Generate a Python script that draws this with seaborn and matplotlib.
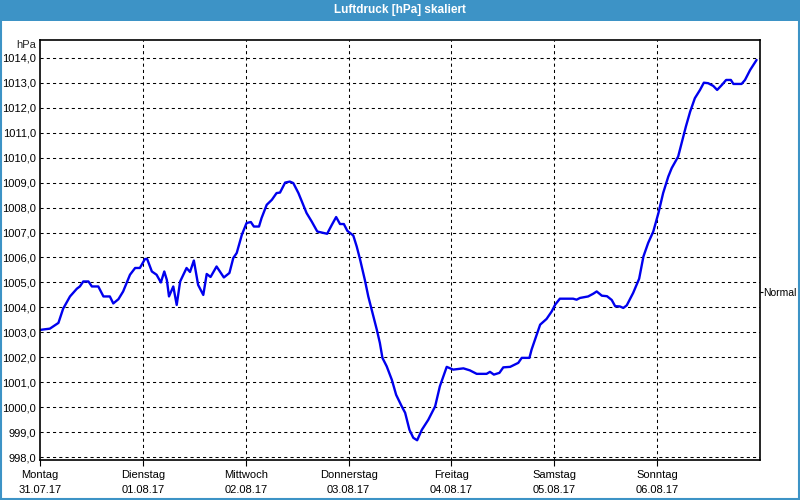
import matplotlib
matplotlib.use("Agg")
import matplotlib.pyplot as plt
import seaborn as sns
import pandas as pd
from matplotlib.patches import Rectangle

# ---- data ----
title = "Luftdruck [hPa] skaliert"
unit = "hPa"
day_names = ["Montag", "Dienstag", "Mittwoch", "Donnerstag", "Freitag", "Samstag", "Sonntag"]
day_dates = ["31.07.17", "01.08.17", "02.08.17", "03.08.17", "04.08.17", "05.08.17", "06.08.17"]
normal_value = 1004.6
y_ticks = list(range(998, 1015))

hours = [0, 2.3, 4.3, 5.4, 7.0, 8.6, 9.3, 10.1, 11.3, 12.1, 13.6, 14.8, 16.3, 17.1, 18.3,
         19.4, 21.0, 22.2, 23.3, 24.5, 25.0, 26.1, 27.2, 28.2, 29.0, 29.6, 30.1, 31.1, 31.9,
         32.7, 34.2, 35.0, 35.9, 36.9, 38.1, 38.9, 39.8, 41.2, 42.9, 44.2, 45.1, 45.9, 47.1,
         48.2, 49.2, 49.9, 51.1, 51.7, 52.9, 54.1, 55.2, 56.0, 57.2, 58.3, 59.1, 60.3, 61.4,
         62.2, 63.4, 64.7, 65.7, 67.0, 68.1, 69.1, 70.0, 70.9, 71.7, 73.1, 73.9, 74.7, 75.8,
         76.6, 77.4, 78.6, 79.3, 79.9, 80.9, 82.1, 83.1, 84.4, 85.2, 86.2, 87.1, 88.0, 89.1,
         90.6, 92.2, 93.3, 94.9, 96.4, 98.8, 100.3, 101.9, 104.2, 105.0, 105.9, 107.2, 108.1,
         109.7, 110.8, 111.6, 112.4, 114.2, 114.7, 115.9, 116.7, 118.2, 119.4, 120.2, 121.3,
         124.4, 125.2, 126.0, 127.9, 129.1, 129.9, 131.1, 132.3, 133.4, 134.2, 135.3, 136.1,
         136.9, 138.4, 139.8, 140.8, 141.9, 143.1, 144.3, 145.4, 146.6, 147.4, 148.9, 149.7,
         150.7, 151.7, 152.8, 154.0, 154.9, 155.9, 157.1, 158.0, 159.1, 160.1, 161.2, 161.8,
         163.7, 164.5, 165.7, 167.2]
pressure = [1003.10, 1003.15, 1003.38, 1003.95, 1004.44, 1004.75, 1004.84, 1005.04, 1005.04,
            1004.84, 1004.84, 1004.44, 1004.44, 1004.16, 1004.33, 1004.64, 1005.31, 1005.58,
            1005.58, 1005.94, 1005.94, 1005.44, 1005.31, 1005.00, 1005.44, 1005.10, 1004.44,
            1004.84, 1004.10, 1005.04, 1005.58, 1005.42, 1005.88, 1004.90, 1004.50, 1005.34,
            1005.22, 1005.64, 1005.20, 1005.38, 1005.98, 1006.18, 1006.91, 1007.38, 1007.42,
            1007.24, 1007.24, 1007.58, 1008.11, 1008.31, 1008.58, 1008.60, 1009.00, 1009.04,
            1008.98, 1008.58, 1008.11, 1007.78, 1007.44, 1007.04, 1007.00, 1006.95, 1007.31,
            1007.62, 1007.34, 1007.34, 1007.07, 1006.88, 1006.44, 1005.91, 1005.10, 1004.44,
            1003.90, 1003.10, 1002.58, 1001.98, 1001.64, 1001.10, 1000.50, 1000.04, 999.78,
            999.10, 998.78, 998.68, 999.10, 999.50, 1000.04, 1000.84, 1001.62, 1001.51, 1001.56,
            1001.48, 1001.34, 1001.34, 1001.42, 1001.31, 1001.38, 1001.60, 1001.62, 1001.71,
            1001.78, 1001.98, 1001.98, 1002.31, 1002.91, 1003.31, 1003.54, 1003.84, 1004.11,
            1004.35, 1004.35, 1004.31, 1004.38, 1004.44, 1004.55, 1004.64, 1004.47, 1004.45,
            1004.30, 1004.05, 1004.04, 1003.98, 1004.08, 1004.58, 1005.15, 1006.04, 1006.58,
            1007.04, 1007.78, 1008.58, 1009.24, 1009.58, 1010.04, 1010.58, 1011.24, 1011.84,
            1012.38, 1012.71, 1013.00, 1012.98, 1012.87, 1012.71, 1012.91, 1013.11, 1013.11,
            1012.95, 1012.95, 1013.11, 1013.51, 1013.91]

df = pd.DataFrame({"hour": hours, "hPa": pressure})

sns.set_style("white")
plt.rcParams["font.family"] = ["Liberation Sans", "DejaVu Sans"]

fig = plt.figure(figsize=(8, 5), dpi=100)
fig.patch.set_facecolor("white")

# title bar and frame
fig.patches.append(Rectangle((0, 1 - 21 / 500), 1, 21 / 500, transform=fig.transFigure,
                             facecolor="#3d93c6", edgecolor="none", zorder=0))
fig.patches.append(Rectangle((0.001, 0.002), 0.998, 0.996, transform=fig.transFigure,
                             facecolor="none", edgecolor="#3d93c6", linewidth=1.5, zorder=0))
fig.text(0.5, 1 - 10.5 / 500, title, color="white", fontsize=8.5, fontweight="bold",
         ha="center", va="center")

ax = fig.add_axes([40 / 800, 40 / 500, 720 / 800, 420 / 500])
sns.lineplot(data=df, x="hour", y="hPa", ax=ax, color="#0000ee", linewidth=1.7)

ax.set_xlim(0, 168)
ax.set_ylim(997.89, 1014.71)
ax.set_yticks(y_ticks)
ax.set_yticklabels([f"{v:.1f}".replace(".", ",") for v in y_ticks])
ax.set_xticks([24 * i for i in range(7)])
ax.set_xticklabels([f"{n}\n{d}" for n, d in zip(day_names, day_dates)], linespacing=1.7)
ax.set_xlabel("")
ax.set_ylabel("")

for v in y_ticks:
    ax.axhline(v, color="black", linewidth=0.75, linestyle=(0, (3, 3)), zorder=1)
for i in range(1, 7):
    ax.axvline(24 * i, color="black", linewidth=0.75, linestyle=(0, (3, 3)), zorder=1)

for s in ax.spines.values():
    s.set_visible(True)
    s.set_color("black")
    s.set_linewidth(1.2)

ax.tick_params(axis="y", length=0, pad=3, labelsize=8, colors="black")
ax.tick_params(axis="x", length=4, width=0.8, pad=3, labelsize=8, colors="black",
               direction="out", bottom=True)

ax.text(-0.005, 1 - 5 / 420, unit, transform=ax.transAxes, ha="right", va="center", fontsize=8)

ax2 = ax.twinx()
ax2.set_ylim(ax.get_ylim())
ax2.set_yticks([normal_value])
ax2.set_yticklabels(["Normal"])
ax2.tick_params(axis="y", length=2, width=0.8, pad=0.5, labelsize=7.5, colors="black")
for s in ax2.spines.values():
    s.set_visible(False)

fig.savefig("out.png", dpi=100)
